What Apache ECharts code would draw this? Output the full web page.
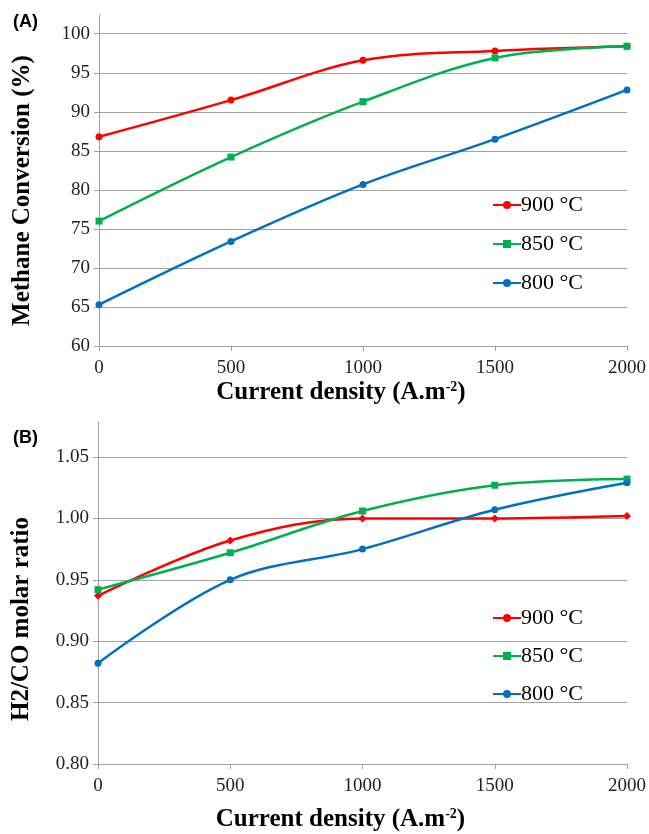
<!DOCTYPE html>
<html>
<head>
<meta charset="utf-8">
<script src="https://cdn.jsdelivr.net/npm/echarts@6/dist/echarts.min.js"></script>
<style>
html,body{margin:0;padding:0;background:#fff;}
#main{width:649px;height:834px;}
</style>
</head>
<body>
<div id="main"></div>
<script>
// current density (A.m-2)
var density = [0, 500, 1000, 1500, 2000];
var names = ['900 °C', '850 °C', '800 °C'];

// (A) methane conversion %
var conv900 = [86.8, 91.5, 96.6, 97.8, 98.4];
var conv850 = [76.0, 84.2, 91.3, 96.9, 98.4];
var conv800 = [65.3, 73.4, 80.7, 86.5, 92.8];

// (B) H2/CO molar ratio
var ratio900 = [0.937, 0.982, 1.000, 1.000, 1.002];
var ratio850 = [0.942, 0.972, 1.006, 1.027, 1.032];
var ratio800 = [0.882, 0.950, 0.975, 1.007, 1.029];

var colors = ['#ff0000', '#00b050', '#0070c0'];

function pairs(ys){
	var out = [];
	for (var i = 0; i < density.length; i++) out.push([density[i], ys[i]]);
	return out;
}

var serif = 'Liberation Serif';
var gridCol = '#a0a0a0';

function xAxisDef(idx, gap){
	return {
		type: 'value', gridIndex: idx, min: 0, max: 2000, interval: 500,
		name: 'Current density (A.m{sup|-2})', nameLocation: 'middle', nameGap: gap,
		nameTextStyle: {fontFamily: serif, fontWeight: 'bold', fontSize: 25, color: '#000',
			padding: [0, 44, 0, 0],
			rich: {sup: {fontFamily: serif, fontWeight: 'bold', fontSize: 14, color: '#000', padding: [0, 0, 12, 0]}}},
		axisLine: {lineStyle: {color: gridCol}},
		axisTick: {show: true, length: 5, lineStyle: {color: gridCol}},
		axisLabel: {fontFamily: serif, fontSize: 19, color: '#222', margin: 13,
			formatter: function(v){ return String(v); }},
		splitLine: {show: false}
	};
}

function yAxisDef(idx, name, min, max, interval, fmt, shift){
	return {
		type: 'value', gridIndex: idx, min: min, max: max, interval: interval,
		name: name, nameLocation: 'middle', nameGap: 64,
		nameTextStyle: {fontFamily: serif, fontWeight: 'bold', fontSize: 25, color: '#000',
			padding: [0, shift, 0, 0]},
		axisLine: {show: true, lineStyle: {color: gridCol}},
		axisTick: {show: true, length: 5, lineStyle: {color: gridCol}},
		axisLabel: {fontFamily: serif, fontSize: 19, color: '#222', margin: 9,
			showMaxLabel: false, formatter: fmt},
		splitLine: {show: true, showMaxLine: false, lineStyle: {color: gridCol, width: 1}}
	};
}

function lineSeries(name, data, color, symbol, xi){
	return {
		name: name, type: 'line', xAxisIndex: xi, yAxisIndex: xi,
		data: pairs(data), smooth: 0.35,
		symbol: symbol, symbolSize: symbol == 'diamond' ? 8 : 7,
		lineStyle: {color: color, width: 2.5},
		itemStyle: {color: color}
	};
}

var legendText = {fontFamily: serif, fontSize: 22, color: '#000', padding: [0, 0, 0, -5]};

var option = {
	animation: false,
	backgroundColor: '#fff',
	title: [
		{text: '(A)', left: 8, top: 8, textStyle: {fontFamily: 'Liberation Sans', fontWeight: 'bold', fontSize: 18, color: '#000'}},
		{text: '(B)', left: 8, top: 424, textStyle: {fontFamily: 'Liberation Sans', fontWeight: 'bold', fontSize: 18, color: '#000'}}
	],
	legend: [
		{data: names, orient: 'vertical', left: 487, top: 189, itemGap: 17, itemWidth: 28, itemHeight: 10, textStyle: legendText},
		{data: names, orient: 'vertical', left: 487, top: 602, itemGap: 16, itemWidth: 28, itemHeight: 10, textStyle: legendText}
	],
	grid: [
		{left: 99, right: 21, top: 15, height: 331},
		{left: 98, right: 21, top: 422, height: 342}
	],
	xAxis: [xAxisDef(0, 34), xAxisDef(1, 43)],
	yAxis: [
		yAxisDef(0, 'Methane Conversion (%)', 60, 102.4, 5, null, 20),
		yAxisDef(1, 'H2/CO molar ratio', 0.8, 1.0785, 0.05, function(v){ return v.toFixed(2); }, 52)
	],
	series: [
		lineSeries(names[0], conv900, colors[0], 'circle', 0),
		lineSeries(names[1], conv850, colors[1], 'rect', 0),
		lineSeries(names[2], conv800, colors[2], 'circle', 0),
		lineSeries(names[0], ratio900, colors[0], 'diamond', 1),
		lineSeries(names[1], ratio850, colors[1], 'rect', 1),
		lineSeries(names[2], ratio800, colors[2], 'circle', 1)
	]
};

var myChart = echarts.init(document.getElementById('main'));
myChart.setOption(option);
</script>
</body>
</html>
